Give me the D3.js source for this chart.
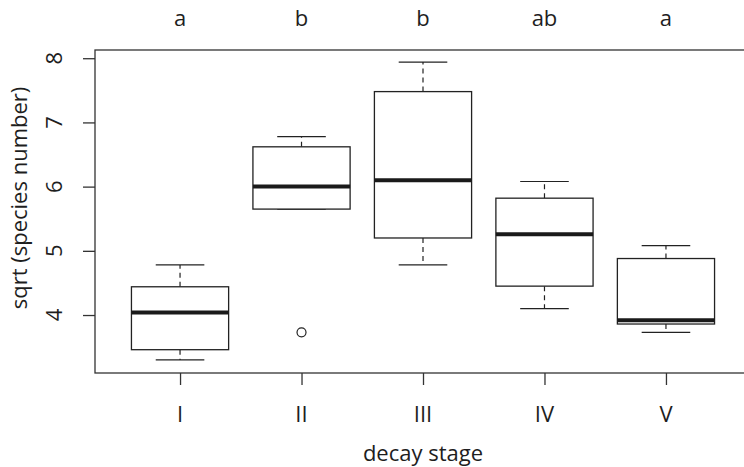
<!DOCTYPE html>
<html>
<head>
<meta charset="utf-8">
<script src="https://cdn.jsdelivr.net/npm/d3@7"></script>
<style>
  html, body { margin: 0; padding: 0; background: #fff; }
  svg { display: block; }
  text { font-family: "Open Sans", sans-serif; fill: #1e1e1e; }
</style>
</head>
<body>
<svg id="chart" width="744" height="467"></svg>
<script>
// ---- data ----
const stages = ["I", "II", "III", "IV", "V"];
const groupLetters = ["a", "b", "b", "ab", "a"];
const lowerWhisker = [3.30, 5.65, 4.78, 4.10, 3.73];
const q1 = [3.46, 5.65, 5.20, 4.45, 3.86];
const medians = [4.04, 6.00, 6.10, 5.26, 3.92];
const q3 = [4.44, 6.62, 7.48, 5.82, 4.88];
const upperWhisker = [4.78, 6.78, 7.94, 6.08, 5.08];
const outlierStages = ["II"];
const outlierValues = [3.73];
const yTicks = [4, 5, 6, 7, 8];
const xTitle = "decay stage";
const yTitle = "sqrt (species number)";

// ---- layout ----
const svg = d3.select("#chart");
const mL = 95, mR = 751, mT = 50, mB = 373;
const ink = "#222";

const x = d3.scaleLinear().domain([0.3, 5.7]).range([mL, mR]);
const y = d3.scaleLinear().domain([3.097, 8.128]).range([mB, mT]);
const pos = s => x(stages.indexOf(s) + 1);
const step = x(2) - x(1);
const boxW = step * 0.8, capW = step * 0.4;

const boxes = stages.map((s, i) => ({
  s, lo: lowerWhisker[i], q1: q1[i], med: medians[i], q3: q3[i], hi: upperWhisker[i]
}));

// frame
svg.append("rect")
  .attr("x", mL).attr("y", mT)
  .attr("width", mR - mL).attr("height", mB - mT)
  .attr("fill", "none").attr("stroke", "#333").attr("stroke-width", 1.3);

// y axis
const yAxis = svg.append("g").attr("transform", `translate(${mL},0)`)
  .call(d3.axisLeft(y).tickValues(yTicks).tickSize(12).tickFormat(""));
yAxis.select(".domain").remove();
yAxis.selectAll("line").attr("stroke", "#333").attr("stroke-width", 1.3);
svg.append("g").selectAll("text").data(yTicks).join("text")
  .attr("transform", d => `translate(62,${y(d)}) rotate(-90)`)
  .attr("text-anchor", "middle")
  .style("font-size", "22px")
  .text(d => d);

// x axis
const xAxis = svg.append("g").attr("transform", `translate(0,${mB})`)
  .call(d3.axisBottom(x).tickValues(stages.map((s, i) => i + 1)).tickSize(12).tickFormat(""));
xAxis.select(".domain").remove();
xAxis.selectAll("line").attr("stroke", "#333").attr("stroke-width", 1.3);
svg.append("g").selectAll("text").data(stages).join("text")
  .attr("x", d => pos(d)).attr("y", 422)
  .attr("text-anchor", "middle")
  .style("font-size", "22px")
  .text(d => d);

// titles
svg.append("text")
  .attr("x", (mL + mR) / 2).attr("y", 461)
  .attr("text-anchor", "middle").style("font-size", "22px")
  .text(xTitle);
svg.append("text")
  .attr("transform", `translate(27,198) rotate(-90)`)
  .attr("text-anchor", "middle").style("font-size", "22px")
  .text(yTitle);

// group letters
svg.append("g").selectAll("text").data(stages).join("text")
  .attr("x", d => pos(d)).attr("y", 26)
  .attr("text-anchor", "middle").style("font-size", "22px")
  .text((d, i) => groupLetters[i]);

// boxes
const g = svg.append("g");
const bx = g.selectAll("g.box").data(boxes).join("g").attr("class", "box");

// whiskers (dashed)
bx.append("line")
  .attr("x1", d => pos(d.s)).attr("x2", d => pos(d.s))
  .attr("y1", d => y(d.q3)).attr("y2", d => y(d.hi))
  .attr("stroke", ink).attr("stroke-width", 1.2).attr("stroke-dasharray", "5,4");
bx.append("line")
  .attr("x1", d => pos(d.s)).attr("x2", d => pos(d.s))
  .attr("y1", d => y(d.q1)).attr("y2", d => y(d.lo))
  .attr("stroke", ink).attr("stroke-width", 1.2).attr("stroke-dasharray", "5,4");
// caps
bx.append("line")
  .attr("x1", d => pos(d.s) - capW / 2).attr("x2", d => pos(d.s) + capW / 2)
  .attr("y1", d => y(d.hi)).attr("y2", d => y(d.hi))
  .attr("stroke", ink).attr("stroke-width", 1.2);
bx.append("line")
  .attr("x1", d => pos(d.s) - capW / 2).attr("x2", d => pos(d.s) + capW / 2)
  .attr("y1", d => y(d.lo)).attr("y2", d => y(d.lo))
  .attr("stroke", ink).attr("stroke-width", 1.2);
// box
bx.append("rect")
  .attr("x", d => pos(d.s) - boxW / 2).attr("width", boxW)
  .attr("y", d => y(d.q3)).attr("height", d => y(d.q1) - y(d.q3))
  .attr("fill", "#fff").attr("stroke", ink).attr("stroke-width", 1.3);
// median
bx.append("line")
  .attr("x1", d => pos(d.s) - boxW / 2).attr("x2", d => pos(d.s) + boxW / 2)
  .attr("y1", d => y(d.med)).attr("y2", d => y(d.med))
  .attr("stroke", "#1a1a1a").attr("stroke-width", 4);

// outliers
svg.append("g").selectAll("circle").data(outlierValues).join("circle")
  .attr("cx", (d, i) => pos(outlierStages[i])).attr("cy", d => y(d))
  .attr("r", 4.5).attr("fill", "none").attr("stroke", ink).attr("stroke-width", 1.2);
</script>
</body>
</html>
